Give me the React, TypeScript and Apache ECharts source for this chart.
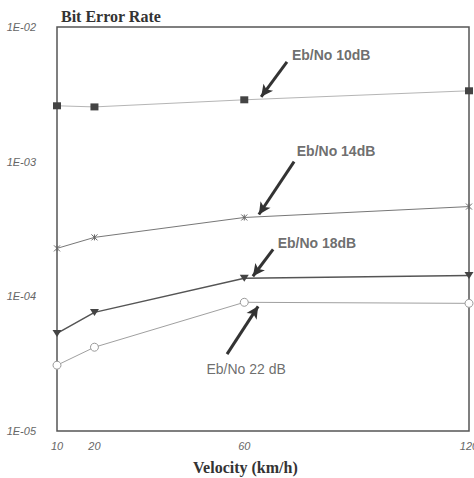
import React, { useEffect, useRef } from "react";
import * as echarts from "echarts";

const velocities = [10, 20, 60, 120];
const xTickValues = [10, 20, 60, 120];
const ber10 = [2.6e-3, 2.55e-3, 2.88e-3, 3.36e-3];
const ber14 = [2.27e-4, 2.74e-4, 3.85e-4, 4.64e-4];
const ber18 = [5.3e-5, 7.6e-5, 1.36e-4, 1.43e-4];
const ber22 = [3.08e-5, 4.19e-5, 9.03e-5, 8.87e-5];

const labelNames = ["Eb/No 10dB", "Eb/No 14dB", "Eb/No 18dB", "Eb/No 22 dB"];
const labelWeights = ["bold", "bold", "bold", "normal"];
const labelX = [83.2, 84.5, 79.4, 60.5];
const labelY = [6.2e-3, 1.19e-3, 2.51e-4, 2.88e-5];
const arrowFromX = [71.4, 73.3, 67.7, 55.4];
const arrowFromY = [5.5e-3, 1.0e-3, 2.23e-4, 3.72e-5];
const arrowToX = [64.5, 63.9, 62.3, 63.7];
const arrowToY = [3.03e-3, 4.05e-4, 1.41e-4, 8.43e-5];

const pairs = (ys: number[]) => velocities.map((v, i) => [v, ys[i]]);

const arrowLine = (i: number) => ({
  silent: true,
  symbol: ["none", "arrow"],
  symbolSize: [9, 12],
  lineStyle: { color: "#333", width: 3, type: "solid" },
  label: { show: false },
  data: [
    [
      { coord: [arrowFromX[i], arrowFromY[i]] },
      { coord: [arrowToX[i], arrowToY[i]] },
    ],
  ],
});

export default function App() {
  const ref = useRef<HTMLDivElement>(null);
  useEffect(() => {
    if (!ref.current) return;
    const chart = echarts.init(ref.current, null, { renderer: "svg" });
    const axisFont = {
      fontFamily: "Liberation Sans",
      fontStyle: "italic" as const,
      fontSize: 11,
      color: "#666",
    };
    chart.setOption({
      animation: false,
      backgroundColor: "#fff",
      title: {
        text: "Bit Error Rate",
        left: 56,
        top: 3,
        textStyle: {
          fontFamily: "Liberation Serif",
          fontWeight: "bold",
          fontSize: 16,
          color: "#333",
        },
      },
      grid: {
        left: 57,
        right: 5,
        top: 27,
        bottom: 47,
        show: true,
        borderColor: "#555",
        borderWidth: 1.5,
        containLabel: false,
        outerBoundsMode: "none",
      },
      xAxis: {
        type: "value",
        min: 10,
        max: 120,
        axisLine: { show: false },
        axisTick: { show: false },
        splitLine: { show: false },
        axisLabel: {
          ...axisFont,
          margin: 9,
          hideOverlap: false,
          customValues: xTickValues,
        },
      },
      yAxis: {
        type: "log",
        logBase: 10,
        min: 1e-5,
        max: 1e-2,
        axisLine: { show: false },
        axisTick: { show: false },
        splitLine: { show: false },
        axisLabel: {
          ...axisFont,
          margin: 21,
          formatter: (v: number) => {
            const e = Math.round(Math.log10(v));
            return "1E-" + String(-e).padStart(2, "0");
          },
        },
      },
      graphic: [
        {
          type: "text",
          left: 193,
          top: 459,
          style: {
            text: "Velocity (km/h)",
            fontFamily: "Liberation Serif",
            fontWeight: "bold",
            fontSize: 16,
            fill: "#333",
          },
        },
      ],
      series: [
        {
          name: "Eb/No 10dB",
          type: "line",
          data: pairs(ber10),
          symbol: "rect",
          symbolSize: [8, 7],
          lineStyle: { color: "#b5b5b5", width: 1 },
          itemStyle: { color: "#444" },
          markLine: arrowLine(0),
        },
        {
          name: "Eb/No 14dB",
          type: "line",
          data: pairs(ber14),
          symbol: "path://M0,0L10,10M10,0L0,10M5,0L5,10",
          symbolSize: 6,
          lineStyle: { color: "#777", width: 1 },
          itemStyle: { color: "none", borderColor: "#666", borderWidth: 1 },
          markLine: arrowLine(1),
        },
        {
          name: "Eb/No 18dB",
          type: "line",
          data: pairs(ber18),
          symbol: "triangle",
          symbolRotate: 180,
          symbolSize: [9, 7],
          lineStyle: { color: "#555", width: 1.5 },
          itemStyle: { color: "#444" },
          markLine: arrowLine(2),
        },
        {
          name: "Eb/No 22 dB",
          type: "line",
          data: pairs(ber22),
          symbol: "circle",
          symbolSize: 8,
          lineStyle: { color: "#a0a0a0", width: 1 },
          itemStyle: { color: "#fff", borderColor: "#999", borderWidth: 1 },
          markLine: arrowLine(3),
        },
        {
          name: "labels",
          type: "scatter",
          silent: true,
          symbolSize: 1,
          itemStyle: { color: "rgba(0,0,0,0)" },
          data: labelNames.map((n, i) => ({
            name: n,
            value: [labelX[i], labelY[i]],
            label: { fontWeight: labelWeights[i] },
          })),
          label: {
            show: true,
            position: "inside",
            formatter: "{b}",
            fontFamily: "Liberation Sans",
            fontSize: 14,
            fontWeight: "bold",
            color: "#484848",
          },
        },
      ],
    });
    return () => chart.dispose();
  }, []);
  return (
    <div
      ref={ref}
      style={{ position: "fixed", left: 0, top: 0, width: 474, height: 478 }}
    />
  );
}
